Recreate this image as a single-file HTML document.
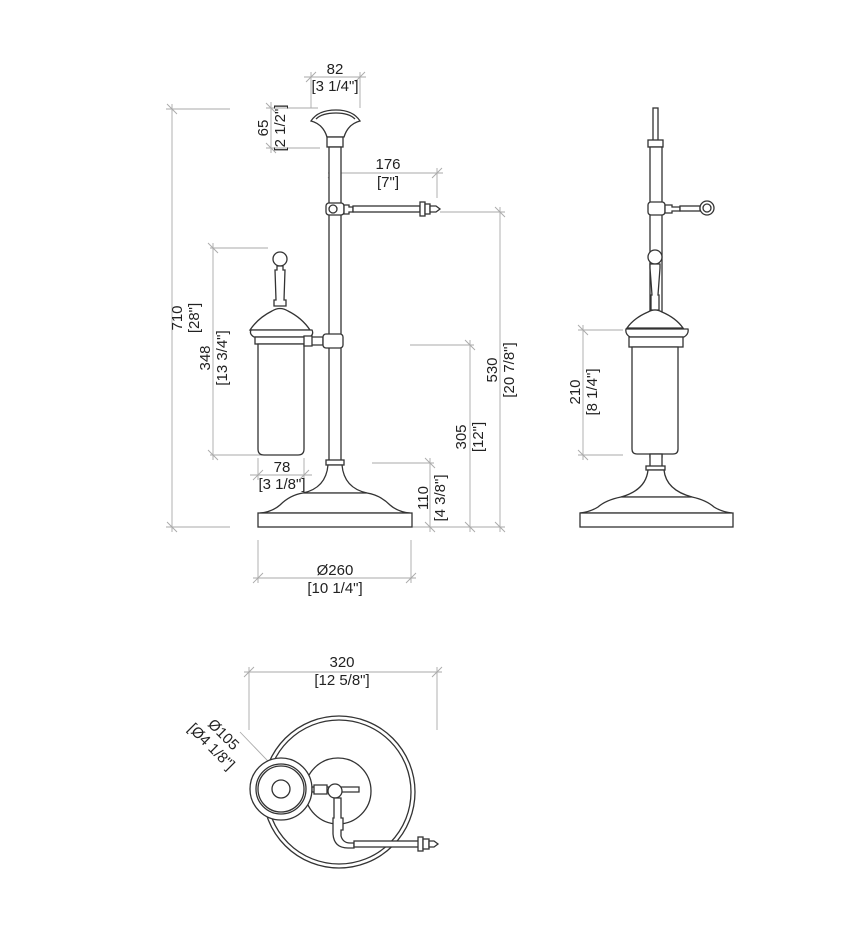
<!DOCTYPE html>
<html><head><meta charset="utf-8"><style>
html,body{margin:0;padding:0;background:#fff}
svg{display:block}
text{font-family:"Liberation Sans",sans-serif;font-size:15px;fill:#222}
.o{fill:none;stroke:#333;stroke-width:1.3}
.w{fill:#fff;stroke:#333;stroke-width:1.3}
.d{fill:none;stroke:#aaa;stroke-width:0.9}
</style></head><body>
<svg width="864" height="932" viewBox="0 0 864 932" xmlns="http://www.w3.org/2000/svg">
<g class="d">
<path d="M166 109H230M172 104V532M166 527H230M167 104l10 10M167 522l10 10"/>
<path d="M304 77H366M311 72V108M360 72V108M306 82l10-10M355 82l10-10"/>
<path d="M266 108H318M271 102V153M266 148H320M266 103l10 10M266 143l10 10"/>
<path d="M328 173H443M333 168V198M437 168V198M328 178l10-10M432 178l10-10"/>
<path d="M440 212H505M500 207V532M495 207l10 10M495 522l10 10M440 527H505"/>
<path d="M210 248H268M213 243V460M208 243l10 10M208 450l10 10M210 455H262"/>
<path d="M410 345H474M470 340V532M465 340l10 10M465 522l10 10M410 527H474"/>
<path d="M372 463H434M430 458V532M425 458l10 10M425 522l10 10M414 527H434"/>
<path d="M250 475H312M258 458V480M304 458V480M253 480l10-10M299 480l10-10"/>
<path d="M253 578H416M258 540V583M411 540V583M253 583l10-10M406 583l10-10"/>
</g>
<text x="335" y="74" text-anchor="middle">82</text>
<text x="335" y="91" text-anchor="middle">[3 1/4"]</text>
<text transform="translate(268,128) rotate(-90)" text-anchor="middle">65</text>
<text transform="translate(285,128) rotate(-90)" text-anchor="middle">[2 1/2"]</text>
<text x="388" y="169" text-anchor="middle">176</text>
<text x="388" y="187" text-anchor="middle">[7"]</text>
<text transform="translate(182,318) rotate(-90)" text-anchor="middle">710</text>
<text transform="translate(199,318) rotate(-90)" text-anchor="middle">[28"]</text>
<text transform="translate(210,358) rotate(-90)" text-anchor="middle">348</text>
<text transform="translate(227,358) rotate(-90)" text-anchor="middle">[13 3/4"]</text>
<text transform="translate(497,370) rotate(-90)" text-anchor="middle">530</text>
<text transform="translate(514,370) rotate(-90)" text-anchor="middle">[20 7/8"]</text>
<text transform="translate(466,437) rotate(-90)" text-anchor="middle">305</text>
<text transform="translate(483,437) rotate(-90)" text-anchor="middle">[12"]</text>
<text transform="translate(428,498) rotate(-90)" text-anchor="middle">110</text>
<text transform="translate(445,498) rotate(-90)" text-anchor="middle">[4 3/8"]</text>
<text x="282" y="472" text-anchor="middle">78</text>
<text x="282" y="489" text-anchor="middle">[3 1/8"]</text>
<text x="335" y="575" text-anchor="middle">Ø260</text>
<text x="335" y="593" text-anchor="middle">[10 1/4"]</text>

<g>
<path class="w" d="M311 121Q318 110 336 110Q353 110 360 121Q348 124 344 137H327Q323 124 311 121Z"/>
<path class="o" d="M316 119Q322 113 336 113Q349 113 355 119"/>
<rect class="w" x="327" y="137" width="16" height="10"/>
<rect class="w" x="329" y="147" width="12" height="316"/>
<rect class="w" x="326" y="203" width="18" height="12" rx="3"/>
<circle class="o" cx="333" cy="209" r="4"/>
<path class="w" d="M344 205H349V207H353V212H349V214H344Z"/>
<rect class="w" x="353" y="206" width="67" height="6"/>
<rect class="w" x="420" y="202" width="5" height="14"/>
<rect class="w" x="425" y="204" width="5" height="10"/>
<path class="w" d="M430 206H436L440 209L436 212H430Z"/>
<circle class="w" cx="280" cy="259" r="7"/>
<path class="w" d="M277 266H283V270H285L284 300H286V306H274V300H276L275 270H277Z"/>
<path class="w" d="M272 311Q280 306 288 311Q302 318 310 330H250Q258 318 272 311Z"/>
<path class="w" d="M251 330H312Q314 334 310 337H254Q249 334 251 330Z"/>
<rect class="w" x="255" y="337" width="50" height="7"/>
<path class="w" d="M258 344H304V449Q304 455 298 455H264Q258 455 258 449Z"/>
<path class="w" d="M304 336H312V346H304ZM312 337H323V345H312Z"/>
<rect class="w" x="323" y="334" width="20" height="14" rx="3"/>
<rect class="w" x="326" y="460" width="18" height="5"/>
<path class="w" d="M328 465Q326 488 303 493H367Q344 488 342 465Z"/>
<path class="w" d="M303 493Q290 495 280 505Q272 512 260 513H410Q398 512 390 505Q380 495 367 493Z"/>
<rect class="w" x="258" y="513" width="154" height="14"/>
</g>

<g class="d">
<path d="M578 330H623M583 325V460M578 325l10 10M578 450l10 10M578 455H623"/>
</g>
<text transform="translate(580,392) rotate(-90)" text-anchor="middle">210</text>
<text transform="translate(597,392) rotate(-90)" text-anchor="middle">[8 1/4"]</text>
<g>
<rect class="w" x="653" y="108" width="5" height="34"/>
<rect class="w" x="648" y="140" width="15" height="7"/>
<rect class="w" x="650" y="147" width="12" height="310"/>
<rect class="w" x="648" y="202" width="17" height="13" rx="3"/>
<path class="w" d="M665 205H672V207H680V211H672V213H665Z"/>
<rect class="w" x="680" y="206" width="20" height="5"/>
<circle class="w" cx="707" cy="208" r="7"/>
<circle class="o" cx="707" cy="208" r="4"/>
<circle class="w" cx="655" cy="257" r="7"/>
<path class="w" d="M650 264H660V268L658 295H659V310H651V295H652L650 268Z"/>
<path class="w" d="M648 312Q655 308 662 312Q676 318 683 328H627Q634 318 648 312Z"/>
<path class="w" d="M626 329H688Q689 334 684 337H630Q625 334 626 329Z"/>
<rect class="w" x="629" y="337" width="54" height="10"/>
<path class="w" d="M632 347H678V449Q678 454 673 454H637Q632 454 632 449Z"/>
<rect class="w" x="650" y="454" width="12" height="13"/>
<rect class="w" x="646" y="466" width="19" height="4"/>
<path class="w" d="M648 470Q646 490 621 497H692Q666 490 664 470Z"/>
<path class="w" d="M621 497Q606 500 598 507Q590 512 580 513H732Q722 512 714 507Q706 500 692 497Z"/>
<rect class="w" x="580" y="513" width="153" height="14"/>
</g>

<g class="d">
<path d="M244 672H442M249 667V730M437 667V730M244 677l10-10M432 677l10-10"/>
<path d="M240 732L313 808"/>
</g>
<text x="342" y="667" text-anchor="middle">320</text>
<text x="342" y="685" text-anchor="middle">[12 5/8"]</text>
<text transform="translate(220,738) rotate(45)" text-anchor="middle">Ø105</text>
<text transform="translate(208,750) rotate(45)" text-anchor="middle">[Ø4 1/8"]</text>
<g>
<circle class="o" cx="339" cy="792" r="76"/>
<circle class="o" cx="339" cy="792" r="72"/>
<circle class="w" cx="338" cy="791" r="33"/>
<circle class="w" cx="281" cy="789" r="31"/>
<circle class="o" cx="281" cy="789" r="25"/>
<circle class="o" cx="281" cy="789" r="23"/>
<circle class="o" cx="281" cy="789" r="9"/>
<path class="w" d="M312 787H359V792H312Z"/>
<path class="w" d="M314 785H327V794H314Z"/>
<circle class="w" cx="335" cy="791" r="7"/>
<path class="w" d="M334 798H341V818H343V830H341V836Q343 843 350 843H354V848H348Q334 848 333 834V818H334Z"/>
<rect class="w" x="354" y="841" width="66" height="6"/>
<rect class="w" x="418" y="837" width="5" height="14"/>
<rect class="w" x="423" y="839" width="6" height="10"/>
<path class="w" d="M429 841H434L438 844L434 847H429Z"/>
</g>
</svg>
</body></html>
